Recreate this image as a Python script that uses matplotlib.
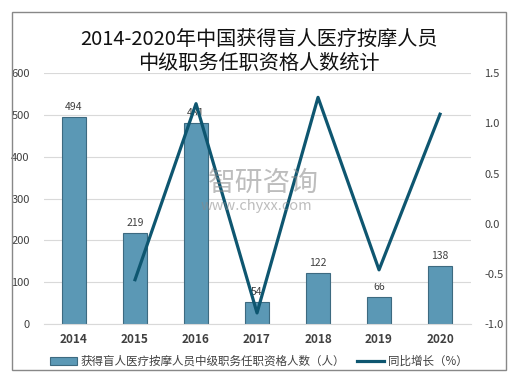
import numpy as np
import matplotlib
matplotlib.use('Agg')
import matplotlib.pyplot as plt
from matplotlib.patches import Rectangle
from matplotlib.lines import Line2D
from matplotlib.ticker import FormatStrFormatter

plt.rcParams['font.family'] = ['Noto Sans CJK SC', 'DejaVu Sans']

years = ['2014', '2015', '2016', '2017', '2018', '2019', '2020']
counts = [494, 219, 481, 54, 122, 66, 138]
growth_years = ['2015', '2016', '2017', '2018', '2019', '2020']
growth = [-0.557, 1.196, -0.888, 1.259, -0.459, 1.091]

C_BAR = '#5b98b5'
C_EDGE = '#3d6a80'
C_LINE = '#0e5670'
C_TXT = '#404040'

fig = plt.figure(figsize=(5.12, 3.85), dpi=100)
ax = fig.add_axes([0.085, 0.158, 0.834, 0.652])

x = np.arange(len(years))
ax.bar(x, counts, width=0.4, color=C_BAR, edgecolor=C_EDGE, linewidth=0.8, zorder=2)
for xi, v in zip(x, counts):
    ax.text(xi, v + 12, str(v), ha='center', va='bottom', fontsize=7.5, color=C_TXT, zorder=1)

ax.set_xlim(-0.5, len(years) - 0.5)
ax.set_ylim(0, 600)
ax.set_yticks(range(0, 601, 100))
ax.set_xticks(x)
ax.set_xticklabels(years, fontsize=8.5, fontweight='bold', color=C_TXT)
ax.tick_params(axis='y', labelsize=8, colors=C_TXT, length=0, pad=10)
ax.tick_params(axis='x', length=0, pad=6)
ax.grid(axis='y', color='#d9d9d9', linewidth=0.8, zorder=0)
for s in ax.spines.values():
    s.set_visible(False)
ax.spines['bottom'].set_visible(True)
ax.spines['bottom'].set_color('#d9d9d9')

ax2 = ax.twinx()
gx = [years.index(y) for y in growth_years]
ax2.plot(gx, growth, color=C_LINE, linewidth=2.3, zorder=3)
ax2.set_ylim(-1.0, 1.5)
ax2.set_yticks(np.arange(-1.0, 1.51, 0.5))
ax2.yaxis.set_major_formatter(FormatStrFormatter('%.1f'))
ax2.tick_params(axis='y', labelsize=8, colors=C_TXT, length=0, pad=10)
for s in ax2.spines.values():
    s.set_visible(False)

# watermark
fig.text(0.515, 0.525, '智研咨询', fontsize=20, color='#888888', alpha=0.55,
         ha='center', va='center')
fig.text(0.5, 0.465, 'www.chyxx.com', fontsize=10.5, color='#888888', alpha=0.55,
         ha='center', va='center')

fig.text(0.505, 0.898, '2014-2020年中国获得盲人医疗按摩人员', fontsize=14.5,
         ha='center', va='center', color='#111111')
fig.text(0.505, 0.836, '中级职务任职资格人数统计', fontsize=14.5,
         ha='center', va='center', color='#111111')

handles = [Rectangle((0, 0), 1, 1, facecolor=C_BAR, edgecolor=C_EDGE, linewidth=0.8),
           Line2D([], [], color=C_LINE, linewidth=2.3)]
labels = ['获得盲人医疗按摩人员中级职务任职资格人数（人）', '同比增长（%）']
fig.legend(handles, labels, loc='center', bbox_to_anchor=(0.505, 0.062), ncol=2,
           frameon=False, fontsize=8.3, labelcolor=C_TXT, handlelength=2.4,
           handletextpad=0.3, columnspacing=1.0)

fig.patches.append(Rectangle((12 / 512, 15 / 385), 494 / 512, 358 / 385,
                             transform=fig.transFigure, fill=False,
                             edgecolor='#888888', linewidth=1.0))

fig.savefig('out.png', dpi=100)
